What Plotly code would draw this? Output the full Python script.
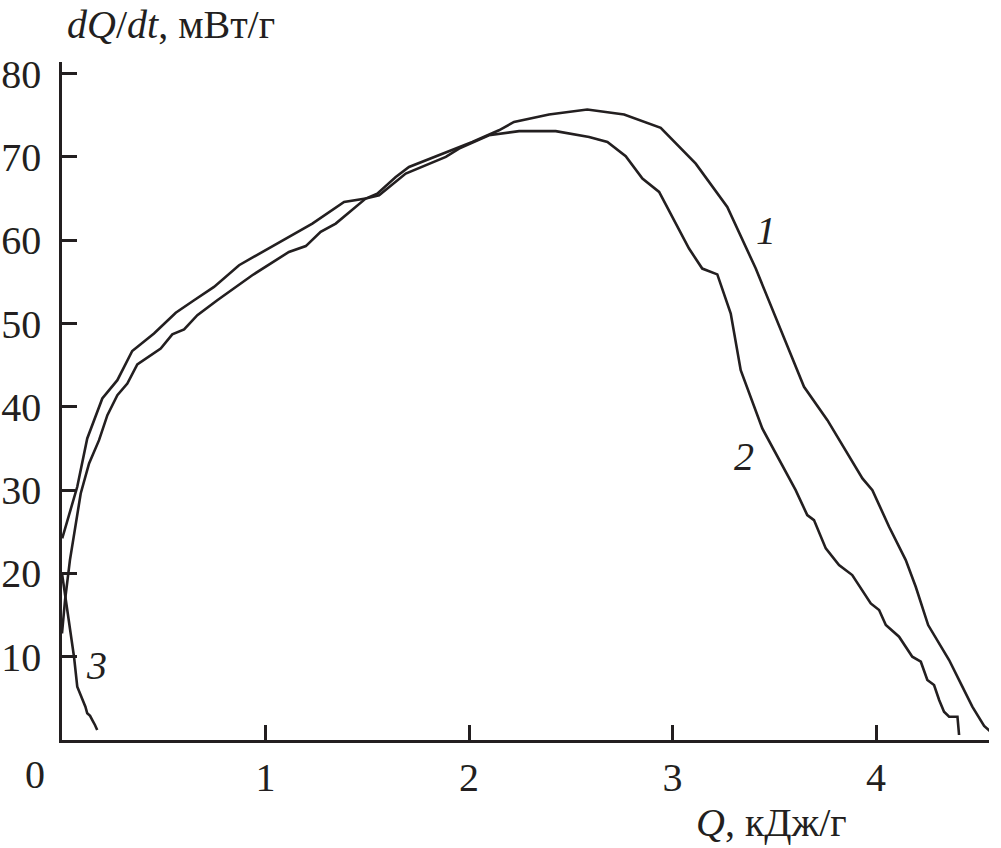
import plotly.graph_objects as go

# Curve 1
q1 = [0.001, 0.075, 0.124, 0.198, 0.272, 0.345, 0.452, 0.559, 0.649, 0.747, 0.870, 1.083, 1.230,
      1.386, 1.492, 1.549, 1.640, 1.705, 1.918, 2.016, 2.147, 2.221, 2.393, 2.581, 2.762, 2.942,
      3.114, 3.269, 3.409, 3.646, 3.761, 3.933, 3.982, 4.064, 4.146, 4.195, 4.256, 4.359, 4.424,
      4.473, 4.531, 4.585]
v1 = [24.2, 30.4, 36.2, 41.0, 43.2, 46.7, 48.8, 51.3, 52.8, 54.4, 57.0, 60.0, 62.0,
      64.6, 65.0, 65.6, 67.6, 68.8, 70.8, 71.8, 73.2, 74.2, 75.1, 75.7, 75.1, 73.5,
      69.2, 64.0, 56.6, 42.4, 38.4, 31.4, 30.0, 25.6, 21.6, 18.4, 13.8, 9.6, 6.4,
      4.0, 1.7, 0.5]

# Curve 2
q2 = [0.0, 0.015, 0.039, 0.092, 0.133, 0.182, 0.223, 0.272, 0.321, 0.370, 0.485, 0.542, 0.600,
      0.665, 0.763, 0.870, 0.935, 1.115, 1.198, 1.271, 1.345, 1.492, 1.558, 1.689, 1.886, 1.951,
      2.098, 2.246, 2.426, 2.590, 2.680, 2.770, 2.852, 2.934, 3.081, 3.146, 3.220, 3.286, 3.335,
      3.441, 3.572, 3.605, 3.662, 3.695, 3.753, 3.818, 3.883, 3.974, 4.015, 4.048, 4.113, 4.178,
      4.220, 4.252, 4.285, 4.310, 4.334, 4.359, 4.400, 4.408]
v2 = [12.8, 16.8, 21.6, 29.6, 33.2, 36.0, 39.0, 41.4, 42.8, 45.1, 47.0, 48.7, 49.3,
      51.0, 52.8, 54.6, 55.8, 58.6, 59.3, 61.0, 62.0, 65.0, 65.4, 68.0, 70.0, 71.0,
      72.6, 73.1, 73.1, 72.4, 71.8, 70.1, 67.4, 65.8, 59.0, 56.6, 55.9, 51.2, 44.4,
      37.4, 31.4, 30.0, 27.0, 26.4, 23.0, 21.0, 19.8, 16.4, 15.6, 13.8, 12.4, 10.0,
      9.4, 7.2, 6.6, 4.8, 3.4, 2.8, 2.8, 0.6]

# Curve 3
q3 = [0.0, 0.018, 0.040, 0.059, 0.075, 0.093, 0.108, 0.115, 0.124, 0.138, 0.143, 0.149, 0.162, 0.173]
v3 = [20.0, 16.8, 13.0, 10.0, 6.4, 5.2, 4.4, 4.0, 3.2, 2.9, 2.6, 2.4, 1.8, 1.2]

curve_labels = ["1", "2", "3"]
label_q = [3.46, 3.35, 0.17]
label_v = [61.2, 34.0, 9.0]

x_ticks = [1, 2, 3, 4]
y_ticks = [10, 20, 30, 40, 50, 60, 70, 80]

INK = "#231f20"
FONT = "Liberation Serif"

fig = go.Figure()
for q, v in [(q1, v1), (q2, v2), (q3, v3)]:
    fig.add_trace(go.Scatter(x=q, y=v, mode="lines",
                             line=dict(color=INK, width=2.6), showlegend=False,
                             hoverinfo="skip"))

for t, xq, yv in zip(curve_labels, label_q, label_v):
    fig.add_annotation(x=xq, y=yv, text=f"<i>{t}</i>", showarrow=False,
                       font=dict(family=FONT, size=40, color=INK))

fig.add_annotation(xref="paper", yref="paper", x=0.003, y=1.0546,
                   xanchor="left", yanchor="middle", showarrow=False,
                   text="<i>dQ</i>/<i>dt</i>, мВт/г",
                   font=dict(family=FONT, size=40, color=INK))
fig.add_annotation(xref="paper", yref="paper", x=0.682, y=-0.121,
                   xanchor="left", yanchor="middle", showarrow=False,
                   text="<i>Q</i>, кДж/г",
                   font=dict(family=FONT, size=40, color=INK))
fig.add_annotation(xref="paper", yref="paper", x=-0.0292, y=-0.0516,
                   xanchor="center", yanchor="middle", showarrow=False,
                   text="0", font=dict(family=FONT, size=40, color=INK))

fig.update_xaxes(range=[0, 4.555], showline=True, linecolor=INK, linewidth=2.6,
                 ticks="inside", ticklen=15, tickwidth=2.6, tickcolor=INK,
                 tickvals=x_ticks, ticktext=[str(t) for t in x_ticks],
                 showgrid=False, zeroline=False, automargin=False,
                 tickfont=dict(family=FONT, size=40, color=INK))
fig.update_yaxes(range=[0, 81.4], showline=True, linecolor=INK, linewidth=2.6,
                 ticks="inside", ticklen=15, tickwidth=2.6, tickcolor=INK,
                 tickvals=y_ticks, ticktext=[str(t) for t in y_ticks],
                 showgrid=False, zeroline=False, ticklabelstandoff=10, automargin=False,
                 tickfont=dict(family=FONT, size=40, color=INK))

fig.update_layout(width=1001, height=848, paper_bgcolor="white", plot_bgcolor="white",
                  margin=dict(l=62, r=12, t=62, b=108))

# remove the default 8px page margin so the figure fills the window exactly
fig.write_html("out.html", config={"displayModeBar": False},
               post_script="document.body.style.margin='0';")
